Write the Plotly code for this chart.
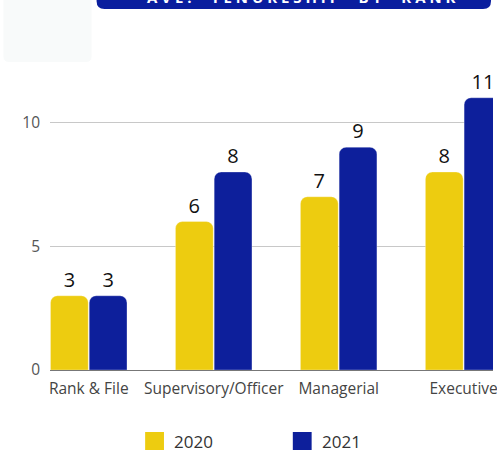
import plotly.graph_objects as go

# Average tenureship (years) per rank
ranks = ["Rank & File", "Supervisory/Officer", "Managerial", "Executive"]
tenure_2020 = [3, 6, 7, 8]
tenure_2021 = [3, 8, 9, 11]
series_names = ["2020", "2021"]
title_text = "AVE. TENURESHIP BY RANK"

YELLOW = "#EDCC10"
BLUE = "#0D1F9B"
FONT = "Open Sans"

W, H = 497, 450
ML, MR, MT, MB = 50, 0, 73, 80
PW, PH = W - ML - MR, H - MT - MB


def px_x(x):
    return (x - ML) / PW


def px_y(y):
    return (H - MB - y) / PH


fig = go.Figure()
for name, vals, color in [(series_names[0], tenure_2020, YELLOW),
                          (series_names[1], tenure_2021, BLUE)]:
    fig.add_trace(go.Bar(
        x=ranks, y=vals, name=name,
        marker=dict(color=color, cornerradius=7,
                    line=dict(color="rgba(255,255,255,0.6)", width=0.5)),
        text=vals, textposition="outside", cliponaxis=False,
        textfont=dict(family=FONT, size=20, color="#111111"),
        showlegend=False,
    ))


def rounded_bottom_box(x0, y0, x1, y1, r):
    # rectangle with rounded lower corners, built in pixel space
    pts = [
        f"M{px_x(x0)},{px_y(y0)}",
        f"L{px_x(x1)},{px_y(y0)}",
        f"L{px_x(x1)},{px_y(y1 - r)}",
        f"Q{px_x(x1)},{px_y(y1)} {px_x(x1 - r)},{px_y(y1)}",
        f"L{px_x(x0 + r)},{px_y(y1)}",
        f"Q{px_x(x0)},{px_y(y1)} {px_x(x0)},{px_y(y1 - r)}",
        "Z",
    ]
    return " ".join(pts)


def rounded_box(x0, y0, x1, y1, r):
    pts = [
        f"M{px_x(x0 + r)},{px_y(y0)}",
        f"L{px_x(x1 - r)},{px_y(y0)}",
        f"Q{px_x(x1)},{px_y(y0)} {px_x(x1)},{px_y(y0 + r)}",
        f"L{px_x(x1)},{px_y(y1 - r)}",
        f"Q{px_x(x1)},{px_y(y1)} {px_x(x1 - r)},{px_y(y1)}",
        f"L{px_x(x0 + r)},{px_y(y1)}",
        f"Q{px_x(x0)},{px_y(y1)} {px_x(x0)},{px_y(y1 - r)}",
        f"L{px_x(x0)},{px_y(y0 + r)}",
        f"Q{px_x(x0)},{px_y(y0)} {px_x(x0 + r)},{px_y(y0)}",
        "Z",
    ]
    return " ".join(pts)


shapes = [
    # faint panel in the upper-left corner
    dict(type="path", xref="paper", yref="paper",
         path=rounded_box(3, -10, 92, 62, 6),
         fillcolor="#F8FAFA", line=dict(width=0), layer="below"),
    # title banner
    dict(type="path", xref="paper", yref="paper",
         path=rounded_bottom_box(97, -40, 495, 9, 8),
         fillcolor="#0A1E9E", line=dict(width=0), layer="below"),
]

# legend swatches
legend_items = [(146, series_names[0], YELLOW), (295, series_names[1], BLUE)]
annotations = [
    dict(xref="paper", yref="paper", x=px_x(303), y=px_y(9),
         xanchor="center", yanchor="bottom", showarrow=False,
         text=" ".join(title_text.replace(" ", "  ")),
         font=dict(family=FONT, size=15, color="white", weight="bold")),
]
for x0, label, color in legend_items:
    shapes.append(dict(type="rect", xref="paper", yref="paper",
                       x0=px_x(x0), x1=px_x(x0 + 19),
                       y0=px_y(450), y1=px_y(432),
                       fillcolor=color, line=dict(width=0)))
    annotations.append(dict(xref="paper", yref="paper",
                            x=px_x(x0 + 27), y=px_y(441),
                            xanchor="left", yanchor="middle", showarrow=False,
                            text=label,
                            font=dict(family=FONT, size=17, color="#333333")))

fig.update_layout(
    width=W, height=H,
    margin=dict(l=ML, r=MR, t=MT, b=MB),
    paper_bgcolor="white", plot_bgcolor="white",
    barmode="group", bargap=0.38, bargroupgap=0.025,
    font=dict(family=FONT),
    shapes=shapes, annotations=annotations,
    xaxis=dict(range=[-0.31, 3.235], showline=False, ticks="",
               tickfont=dict(family=FONT, size=15.5, color="#444444"),
               showgrid=False, ticklabelstandoff=7),
    yaxis=dict(range=[0, 12], dtick=5, showgrid=True, gridcolor="#C8C8C8",
               gridwidth=1, zeroline=True, zerolinecolor="#777777",
               zerolinewidth=1, showline=False, ticks="",
               tickfont=dict(family=FONT, size=15.5, color="#555555"),
               ticklabelstandoff=9),
)

fig.write_html("out.html")
